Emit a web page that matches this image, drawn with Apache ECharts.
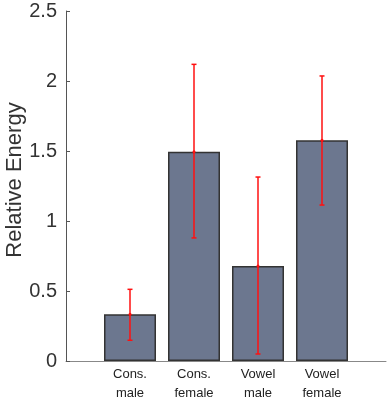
<!DOCTYPE html>
<html>
<head>
<meta charset="utf-8">
<script src="https://cdn.jsdelivr.net/npm/echarts@6/dist/echarts.min.js"></script>
<style>
  html, body { margin: 0; padding: 0; background: #fff; }
  #chart { width: 390px; height: 398px; }
</style>
</head>
<body>
<div id="chart"></div>
<script>
// data
var categories = ['', 'Cons.\nmale', 'Cons.\nfemale', 'Vowel\nmale', 'Vowel\nfemale', ''];
var means = ['-', 0.334, 1.495, 0.679, 1.576, '-'];
var errLow = [null, 0.148, 0.879, 0.05, 1.114, null];
var errHigh = [null, 0.512, 2.119, 1.314, 2.036, null];
var yTicks = [0, 0.5, 1, 1.5, 2, 2.5];

var errData = [];
for (var i = 0; i < categories.length; i++) {
    if (errLow[i] !== null) {
        errData.push([i, errLow[i], errHigh[i], means[i]]);
    }
}

var chart = echarts.init(document.getElementById('chart'));
var font = 'Liberation Sans, Arial, sans-serif';

var option = {
    animation: false,
    grid: { left: 66, right: 4, top: 11, bottom: 37, outerBoundsMode: 'none', containLabel: false },
    xAxis: {
        type: 'category',
        data: categories,
        boundaryGap: false,
        axisLine: { lineStyle: { color: '#888', width: 1 } },
        axisTick: { show: false },
        axisLabel: {
            interval: 0,
            color: '#222',
            fontFamily: font,
            fontSize: 13,
            lineHeight: 19,
            margin: 4
        },
        splitLine: { show: false }
    },
    yAxis: {
        type: 'value',
        min: yTicks[0],
        max: yTicks[yTicks.length - 1],
        interval: 0.5,
        name: 'Relative Energy',
        nameLocation: 'middle',
        nameGap: 40,
        nameMoveOverlap: false,
        nameTextStyle: { fontFamily: font, fontSize: 22, color: '#333', padding: [0, 0, 0, 12] },
        axisLine: { show: true, lineStyle: { color: '#555', width: 1 } },
        axisTick: { show: true, inside: true, length: 4, lineStyle: { color: '#555' } },
        axisLabel: {
            color: '#333',
            fontFamily: font,
            fontSize: 20,
            margin: 9,
            formatter: function (v) { return String(v); }
        },
        splitLine: { show: false }
    },
    series: [
        {
            type: 'bar',
            data: means,
            barWidth: 52,
            itemStyle: { color: '#6c778f', borderColor: '#333', borderWidth: 1.5 }
        },
        {
            type: 'custom',
            data: errData,
            z: 10,
            renderItem: function (params, api) {
                var x = api.value(0);
                var lo = api.coord([x, api.value(1)]);
                var hi = api.coord([x, api.value(2)]);
                var mid = api.coord([x, api.value(3)]);
                var cap = 2.5;
                var style = { stroke: '#ff1010', lineWidth: 1.5 };
                return {
                    type: 'group',
                    children: [
                        { type: 'line', shape: { x1: hi[0], y1: hi[1], x2: lo[0], y2: lo[1] }, style: style },
                        { type: 'line', shape: { x1: hi[0] - cap, y1: hi[1], x2: hi[0] + cap, y2: hi[1] }, style: style },
                        { type: 'line', shape: { x1: lo[0] - cap, y1: lo[1], x2: lo[0] + cap, y2: lo[1] }, style: style },
                        { type: 'circle', shape: { cx: mid[0], cy: mid[1], r: 1.5 }, style: { fill: '#ff1010' } }
                    ]
                };
            }
        }
    ]
};
chart.setOption(option);
</script>
</body>
</html>
